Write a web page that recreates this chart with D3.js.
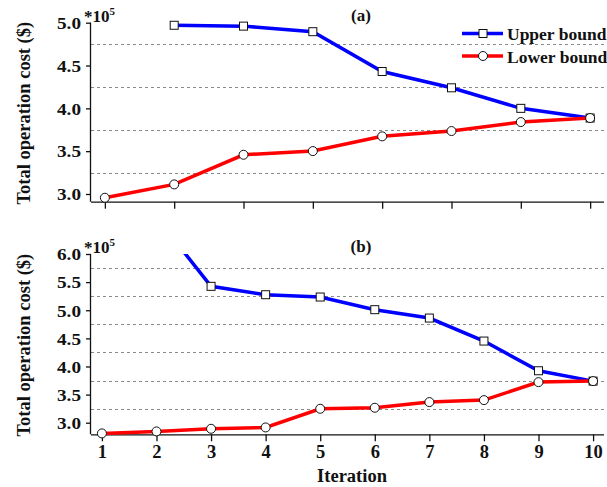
<!DOCTYPE html>
<html>
<head>
<meta charset="utf-8">
<script src="https://cdn.jsdelivr.net/npm/d3@7"></script>
<style>
  body { margin: 0; background: #fff; }
  text { font-family: "Liberation Serif", "Times New Roman", serif; font-weight: bold; fill: #111; }
</style>
</head>
<body>
<div id="chart"></div>
<script>
// values in units of 1e5 $
var iterA = [1, 2, 3, 4, 5, 6, 7, 8];
var upperA = [null, 4.97, 4.96, 4.895, 4.43, 4.24, 4.0, 3.887];
var lowerA = [2.956, 3.112, 3.458, 3.501, 3.673, 3.735, 3.84, 3.887];

var iterB = [1, 2, 3, 4, 5, 6, 7, 8, 9, 10];
var upperB = [null, 6.65, 5.425, 5.276, 5.235, 5.01, 4.861, 4.452, 3.924, 3.74];
var lowerB = [2.81, 2.845, 2.892, 2.916, 3.248, 3.266, 3.367, 3.402, 3.722, 3.74];

var yTicksA = [3.0, 3.5, 4.0, 4.5, 5.0];
var yTicksB = [3.0, 3.5, 4.0, 4.5, 5.0, 5.5, 6.0];
var gridA = [3.25, 3.75, 4.25, 4.75];
var gridB = [3.25, 3.75, 4.25, 4.75, 5.25, 5.75];
var seriesNames = ["Upper bound", "Lower bound"];

var W = 607, H = 487;
var svg = d3.select("#chart").append("svg")
    .attr("width", W)
    .attr("height", H);

var left = 91, right = 604;

function panel(opt) {
  var x = d3.scaleLinear().domain([0.8, opt.iters.length + 0.2]).range([left, right]);
  var y = d3.scaleLinear().domain(opt.yDomain).range([opt.bottom, opt.top]);

  var g = svg.append("g");

  // dashed grid
  g.selectAll(".grid")
    .data(opt.grid)
    .enter()
    .append("line")
    .attr("x1", left).attr("x2", right + 1)
    .attr("y1", function(d) { return Math.round(y(d)) + 0.5; })
    .attr("y2", function(d) { return Math.round(y(d)) + 0.5; })
    .style("stroke", "#8a8a8a")
    .style("stroke-width", 1)
    .style("stroke-dasharray", "3,3");

  // axes
  var yAxis = g.append("g")
    .attr("transform", "translate(" + left + ",0)")
    .call(d3.axisLeft(y).tickValues(opt.yTicks).tickFormat(d3.format(".1f")).tickSize(5).tickPadding(5));
  yAxis.select(".domain").attr("d", "M-0.5," + opt.top + "V" + opt.bottom);
  yAxis.selectAll("text")
    .style("font-size", "16px")
    .attr("dy", "0.36em")
    .attr("textLength", 24)
    .attr("lengthAdjust", "spacingAndGlyphs");

  var xAxis = g.append("g")
    .attr("transform", "translate(0," + opt.bottom + ")")
    .call(d3.axisBottom(x).tickValues(opt.iters).tickFormat(opt.xLabels ? d3.format("d") : "").tickSize(7).tickPadding(4));
  xAxis.select(".domain").attr("d", "M" + left + ",0.5H" + right);
  xAxis.selectAll("text").style("font-size", "18.5px");
  g.selectAll(".domain, .tick line").style("stroke", "#111").style("stroke-width", 1.3);

  // clip lines to plotting area
  var clipId = "clip" + opt.name;
  svg.append("clipPath").attr("id", clipId)
    .append("rect")
    .attr("x", left).attr("y", opt.top)
    .attr("width", right - left + 5).attr("height", opt.bottom - opt.top + 5);

  var line = d3.line()
    .defined(function(d) { return d[1] != null; })
    .x(function(d) { return x(d[0]); })
    .y(function(d) { return y(d[1]); });

  var upPts = opt.iters.map(function(it, i) { return [it, opt.upper[i]]; });
  var loPts = opt.iters.map(function(it, i) { return [it, opt.lower[i]]; });

  g.append("path").datum(upPts)
    .attr("d", line)
    .attr("clip-path", "url(#" + clipId + ")")
    .style("fill", "none").style("stroke", "#0000ff").style("stroke-width", 3.5);
  g.append("path").datum(loPts)
    .attr("d", line)
    .attr("clip-path", "url(#" + clipId + ")")
    .style("fill", "none").style("stroke", "#ff0000").style("stroke-width", 3.5);

  var inside = function(d) { return d[1] != null && d[1] <= opt.yDomain[1]; };

  g.selectAll(".sq")
    .data(upPts.filter(inside))
    .enter()
    .append("rect")
    .attr("x", function(d) { return x(d[0]) - 4; })
    .attr("y", function(d) { return y(d[1]) - 4; })
    .attr("width", 8).attr("height", 8)
    .style("fill", "#fff").style("stroke", "#111").style("stroke-width", 1);

  g.selectAll(".ci")
    .data(loPts.filter(inside))
    .enter()
    .append("circle")
    .attr("cx", function(d) { return x(d[0]); })
    .attr("cy", function(d) { return y(d[1]); })
    .attr("r", 4.5)
    .style("fill", "#fff").style("stroke", "#111").style("stroke-width", 1);

  // *10^5 multiplier
  var m = g.append("text")
    .attr("x", 84).attr("y", opt.top - 1)
    .style("font-size", "17px");
  m.append("tspan").text("*10");
  m.append("tspan").attr("dy", -7).style("font-size", "11px").text("5");

  // panel title
  g.append("text")
    .attr("x", 361).attr("y", opt.top - 2)
    .attr("text-anchor", "middle")
    .style("font-size", "17px")
    .text(opt.title);

  // y title
  g.append("text")
    .attr("transform", "translate(30," + ((opt.top + opt.bottom) / 2 + 1) + ") rotate(-90)")
    .attr("text-anchor", "middle")
    .style("font-size", "18.5px")
    .text("Total operation cost ($)");

  return { x: x, y: y, g: g };
}

panel({ name: "a", iters: iterA, upper: upperA, lower: lowerA,
        yDomain: [2.91, 5.0], top: 22.7, bottom: 201.7,
        yTicks: yTicksA, grid: gridA, xLabels: false, title: "(a)" });

panel({ name: "b", iters: iterB, upper: upperB, lower: lowerB,
        yDomain: [2.794, 6.0], top: 254, bottom: 434.3,
        yTicks: yTicksB, grid: gridB, xLabels: true, title: "(b)" });

// x title
svg.append("text")
  .attr("x", 352).attr("y", 482)
  .attr("text-anchor", "middle")
  .style("font-size", "18.5px")
  .text("Iteration");

// legend
var legend = svg.append("g");
var legColors = ["#0000ff", "#ff0000"];
seriesNames.forEach(function(name, i) {
  var ly = 33.5 + i * 22.5;
  legend.append("line")
    .attr("x1", 462).attr("x2", 503).attr("y1", ly).attr("y2", ly)
    .style("stroke", legColors[i]).style("stroke-width", 3.5);
  if (i === 0) {
    legend.append("rect").attr("x", 479).attr("y", ly - 4).attr("width", 8).attr("height", 8)
      .style("fill", "#fff").style("stroke", "#111").style("stroke-width", 1);
  } else {
    legend.append("circle").attr("cx", 483).attr("cy", ly).attr("r", 4.5)
      .style("fill", "#fff").style("stroke", "#111").style("stroke-width", 1);
  }
  legend.append("text")
    .attr("x", 507).attr("y", ly + 6.5)
    .style("font-size", "17.5px")
    .text(name);
});
</script>
</body>
</html>
